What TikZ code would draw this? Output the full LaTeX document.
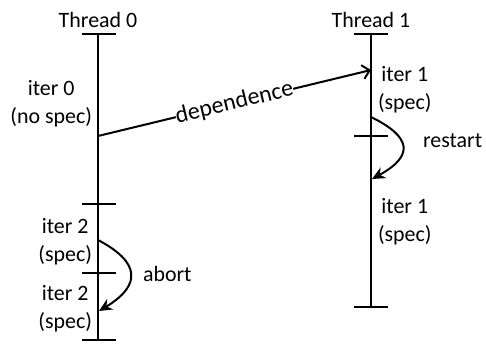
\documentclass[tikz,border=0pt]{standalone}
\usepackage{fontspec}
\setmainfont{Carlito}
\usetikzlibrary{arrows.meta,positioning}

\begin{document}
\begin{tikzpicture}[x=1bp, y=-1bp, line width=2bp,
    lbl/.style={font=\fontsize{22}{28}\selectfont, align=center, inner sep=1bp},
    tickmark/.style={line width=2bp},
    jump/.style={-{Stealth[length=13bp,width=12bp]}}]
  \useasboundingbox (0,0) rectangle (486,343);
  % thread 0
  \coordinate (t0top) at (98,34);
  \coordinate (t0mid) at (98,204);
  \coordinate (t0low) at (98,273);
  \coordinate (t0bot) at (98,340);
  \draw (t0top) -- (t0bot);
  \foreach \c in {t0top,t0mid,t0low,t0bot}
    \draw[tickmark] ([xshift=-16bp]\c) -- ([xshift=18bp]\c);
  \node[lbl, above=4bp of t0top] (thr0) {Thread 0};
  % thread 1
  \coordinate (t1top) at (371,34);
  \coordinate (t1mid) at (371,136);
  \coordinate (t1bot) at (371,307);
  \draw (t1top) -- (t1bot);
  \foreach \c in {t1top,t1mid,t1bot}
    \draw[tickmark] ([xshift=-17bp]\c) -- ([xshift=17bp]\c);
  \node[lbl, above=4bp of t1top] (thr1) {Thread 1};
  % iterations
  \coordinate (i0) at (98,104);
  \node[lbl, left=4bp of i0] (iter0) {iter 0\\(no spec)};
  \coordinate (i1a) at (371,90);
  \node[lbl, right=5bp of i1a] (iter1a) {iter 1\\(spec)};
  \coordinate (i1b) at (371,222);
  \node[lbl, right=5bp of i1b] (iter1b) {iter 1\\(spec)};
  \coordinate (i2a) at (98,242);
  \node[lbl, left=4bp of i2a] (iter2a) {iter 2\\(spec)};
  \coordinate (i2b) at (98,309);
  \node[lbl, left=4bp of i2b] (iter2b) {iter 2\\(spec)};
  % dependence
  \coordinate (dsrc) at (98,136);
  \coordinate (ddst) at (371,70);
  \draw[-{Straight Barb[length=7bp,width=14bp]}] (dsrc) -- (ddst)
    node[lbl, font=\fontsize{24}{28}\selectfont, midway, sloped, fill=white, inner sep=0pt] (dep) {dependence};
  % restart
  \coordinate (rsrc) at (371,117);
  \coordinate (rdst) at (372,179);
  \draw[jump] (rsrc) .. controls (412,137) and (414,156) .. (rdst);
  \node[lbl, anchor=west] (rst) at (421,141) {restart};
  % abort
  \coordinate (asrc) at (98,240);
  \coordinate (adst) at (99,311);
  \draw[jump] (asrc) .. controls (140,262) and (142,285) .. (adst);
  \node[lbl, anchor=west] (abt) at (141,274) {abort};
\end{tikzpicture}
\end{document}
